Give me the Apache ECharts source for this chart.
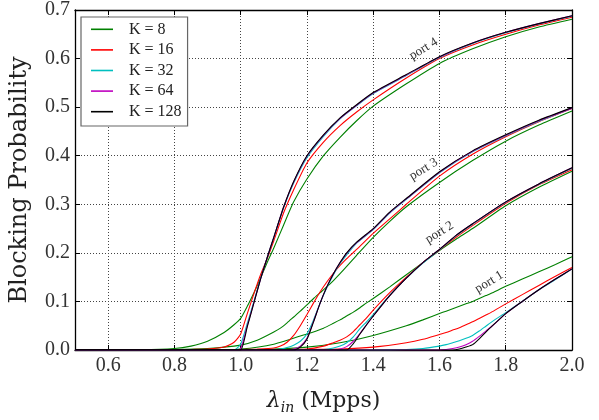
<!DOCTYPE html>
<html>
<head>
<meta charset="utf-8">
<script src="https://cdn.jsdelivr.net/npm/echarts@6/dist/echarts.min.js"></script>
<style>
  html, body { margin: 0; padding: 0; background: #fff; }
  #chart { width: 599px; height: 420px; }
</style>
</head>
<body>
<div id="chart"></div>
<script>
// Blocking probability vs. input rate, one family of curves per output port,
// one curve per buffer size K.
const kNames = ['K = 8', 'K = 16', 'K = 32', 'K = 64', 'K = 128'];
const xTicks = [0.6, 0.8, 1.0, 1.2, 1.4, 1.6, 1.8, 2.0];
const portNames = ['port 1', 'port 2', 'port 3', 'port 4'];

// port 4
const port4X = [0.5, 0.7, 0.8, 0.85, 0.9, 0.95, 0.98, 1.0, 1.02, 1.04, 1.06, 1.08, 1.1, 1.13, 1.16, 1.2, 1.25, 1.3, 1.35, 1.4, 1.5, 1.6, 1.7, 1.8, 1.9, 2.0];
const port4K8 = [0, 0.0005, 0.003, 0.008, 0.018, 0.036, 0.052, 0.065, 0.09, 0.118, 0.148, 0.18, 0.21, 0.258, 0.305, 0.352, 0.4, 0.438, 0.472, 0.502, 0.548, 0.59, 0.62, 0.645, 0.665, 0.681];
const port4K16 = [0, 0, 0, 0.001, 0.002, 0.006, 0.016, 0.033, 0.075, 0.116, 0.155, 0.188, 0.225, 0.283, 0.33, 0.385, 0.428, 0.462, 0.49, 0.515, 0.56, 0.6, 0.628, 0.65, 0.669, 0.685];
const port4K32 = [0, 0, 0, 0, 0, 0, 0, 0.012, 0.055, 0.1, 0.147, 0.19, 0.232, 0.294, 0.344, 0.396, 0.44, 0.476, 0.503, 0.528, 0.565, 0.602, 0.631, 0.653, 0.671, 0.687];
const port4K64 = [0, 0, 0, 0, 0, 0, 0, 0.003, 0.05, 0.098, 0.146, 0.19, 0.232, 0.295, 0.346, 0.399, 0.442, 0.477, 0.504, 0.529, 0.566, 0.603, 0.632, 0.654, 0.672, 0.688];
const port4K128 = [0, 0, 0, 0, 0, 0, 0, 0, 0.048, 0.097, 0.146, 0.19, 0.232, 0.295, 0.347, 0.4, 0.443, 0.478, 0.505, 0.53, 0.567, 0.604, 0.632, 0.654, 0.672, 0.688];

// port 3
const port3X = [0.5, 0.8, 0.9, 1.0, 1.05, 1.1, 1.12, 1.14, 1.16, 1.18, 1.2, 1.22, 1.24, 1.26, 1.28, 1.3, 1.32, 1.35, 1.4, 1.45, 1.5, 1.6, 1.7, 1.8, 1.9, 2.0];
const port3K8 = [0, 0.001, 0.003, 0.01, 0.02, 0.037, 0.045, 0.056, 0.068, 0.08, 0.093, 0.106, 0.118, 0.13, 0.143, 0.157, 0.172, 0.195, 0.232, 0.265, 0.295, 0.345, 0.39, 0.43, 0.463, 0.492];
const port3K16 = [0, 0, 0, 0.001, 0.002, 0.004, 0.008, 0.016, 0.03, 0.05, 0.073, 0.097, 0.12, 0.14, 0.158, 0.174, 0.188, 0.207, 0.24, 0.27, 0.3, 0.358, 0.403, 0.439, 0.47, 0.497];
const port3K32 = [0, 0, 0, 0, 0, 0, 0.002, 0.005, 0.01, 0.018, 0.033, 0.062, 0.097, 0.128, 0.155, 0.178, 0.196, 0.22, 0.248, 0.282, 0.31, 0.365, 0.408, 0.441, 0.471, 0.498];
const port3K64 = [0, 0, 0, 0, 0, 0, 0, 0, 0.002, 0.008, 0.024, 0.059, 0.097, 0.13, 0.157, 0.18, 0.199, 0.221, 0.249, 0.283, 0.311, 0.366, 0.409, 0.442, 0.472, 0.498];
const port3K128 = [0, 0, 0, 0, 0, 0, 0, 0, 0, 0.006, 0.022, 0.058, 0.097, 0.13, 0.157, 0.18, 0.2, 0.222, 0.25, 0.284, 0.312, 0.367, 0.41, 0.443, 0.473, 0.499];

// port 2
const port2X = [0.5, 0.9, 1.0, 1.1, 1.2, 1.25, 1.28, 1.3, 1.32, 1.34, 1.36, 1.38, 1.4, 1.45, 1.5, 1.55, 1.6, 1.65, 1.7, 1.8, 1.9, 2.0];
const port2K8 = [0, 0, 0.002, 0.012, 0.033, 0.045, 0.055, 0.062, 0.07, 0.078, 0.087, 0.097, 0.106, 0.13, 0.155, 0.18, 0.205, 0.228, 0.25, 0.297, 0.335, 0.368];
const port2K16 = [0, 0, 0, 0.001, 0.002, 0.008, 0.015, 0.02, 0.027, 0.038, 0.052, 0.066, 0.082, 0.118, 0.15, 0.18, 0.206, 0.232, 0.256, 0.302, 0.34, 0.371];
const port2K32 = [0, 0, 0, 0, 0, 0.001, 0.004, 0.008, 0.015, 0.027, 0.044, 0.058, 0.073, 0.113, 0.148, 0.179, 0.206, 0.235, 0.259, 0.304, 0.341, 0.374];
const port2K64 = [0, 0, 0, 0, 0, 0, 0, 0.002, 0.007, 0.018, 0.034, 0.052, 0.07, 0.112, 0.148, 0.18, 0.207, 0.236, 0.26, 0.305, 0.342, 0.375];
const port2K128 = [0, 0, 0, 0, 0, 0, 0, 0, 0, 0.013, 0.033, 0.052, 0.07, 0.112, 0.148, 0.18, 0.207, 0.236, 0.26, 0.305, 0.342, 0.375];

// port 1
const port1X = [0.5, 1.0, 1.1, 1.2, 1.3, 1.4, 1.5, 1.55, 1.6, 1.62, 1.64, 1.66, 1.68, 1.7, 1.72, 1.74, 1.76, 1.8, 1.85, 1.9, 1.95, 2.0];
const port1K8 = [0, 0, 0.002, 0.006, 0.015, 0.03, 0.05, 0.062, 0.075, 0.08, 0.085, 0.09, 0.095, 0.1, 0.106, 0.112, 0.118, 0.131, 0.146, 0.161, 0.176, 0.192];
const port1K16 = [0, 0, 0, 0.001, 0.002, 0.006, 0.015, 0.022, 0.032, 0.036, 0.041, 0.046, 0.052, 0.058, 0.065, 0.072, 0.079, 0.095, 0.114, 0.133, 0.152, 0.17];
const port1K32 = [0, 0, 0, 0, 0, 0, 0.001, 0.003, 0.008, 0.011, 0.015, 0.019, 0.024, 0.03, 0.039, 0.049, 0.059, 0.077, 0.1, 0.124, 0.145, 0.167];
const port1K64 = [0, 0, 0, 0, 0, 0, 0, 0, 0, 0.001, 0.003, 0.006, 0.011, 0.018, 0.028, 0.039, 0.05, 0.075, 0.1, 0.124, 0.146, 0.167];
const port1K128 = [0, 0, 0, 0, 0, 0, 0, 0, 0, 0, 0, 0.002, 0.006, 0.011, 0.023, 0.037, 0.05, 0.075, 0.1, 0.124, 0.146, 0.167];

const kColors = ['#008000', '#ff0000', '#00bfbf', '#bf00bf', '#000000'];
const SERIF = '"Liberation Serif", "DejaVu Serif", serif';
const TITLE_FONT = '"DejaVu Serif", serif';

const ports = [
  { x: port1X, ys: [port1K8, port1K16, port1K32, port1K64, port1K128] },
  { x: port2X, ys: [port2K8, port2K16, port2K32, port2K64, port2K128] },
  { x: port3X, ys: [port3K8, port3K16, port3K32, port3K64, port3K128] },
  { x: port4X, ys: [port4K8, port4K16, port4K32, port4K64, port4K128] }
];

// Green first, black last, so the largest buffer size sits on top.
const series = [];
kNames.forEach((name, k) => {
  ports.forEach(p => {
    series.push({
      type: 'line',
      name: name,
      xAxisIndex: 0,
      yAxisIndex: 0,
      data: p.x.map((xv, i) => [xv, p.ys[k][i]]),
      symbol: 'none',
      smooth: 0.2,
      lineStyle: { color: kColors[k], width: 1.1 },
      itemStyle: { color: kColors[k] },
      z: 2 + k,
      silent: true
    });
  });
});

const frame = { show: true, onZero: false, lineStyle: { color: '#000', width: 1.3 } };
const inTick = { show: true, inside: true, length: 5, lineStyle: { color: '#000', width: 1 } };
const dotted = { show: true, lineStyle: { color: '#444', width: 1, type: [1, 2] } };

const chart = echarts.init(document.getElementById('chart'), null, { renderer: 'canvas' });
chart.setOption({
  animation: false,
  backgroundColor: '#fff',
  grid: { left: 73, right: 27, top: 10, bottom: 60 },
  legend: {
    data: kNames,
    orient: 'vertical',
    left: 81,
    top: 17,
    icon: 'rect',
    itemWidth: 22,
    itemHeight: 1.6,
    itemGap: 0,
    padding: [2, 6, 4, 10],
    borderColor: '#666',
    borderWidth: 1.2,
    backgroundColor: '#fff',
    textStyle: { fontFamily: SERIF, fontSize: 16, color: '#222', lineHeight: 20.6, padding: [0, 0, 0, 11] }
  },
  xAxis: [
    {
      type: 'value', min: 0.5, max: 2.0, position: 'bottom',
      name: '{l|λ}{s|in}{t| (Mpps)}',
      nameLocation: 'middle', nameGap: 37,
      nameTextStyle: {
        color: '#222', fontFamily: TITLE_FONT,
        rich: {
          l: { fontFamily: TITLE_FONT, fontSize: 22, fontStyle: 'italic', lineHeight: 28, color: '#222' },
          s: { fontFamily: TITLE_FONT, fontSize: 14, fontStyle: 'italic', lineHeight: 10, verticalAlign: 'bottom', color: '#222' },
          t: { fontFamily: TITLE_FONT, fontSize: 22, lineHeight: 28, color: '#222' }
        }
      },
      axisLine: frame,
      axisTick: Object.assign({ customValues: xTicks }, inTick),
      axisLabel: { customValues: xTicks, margin: 6, fontFamily: SERIF, fontSize: 20, color: '#333', formatter: v => v.toFixed(1) },
      splitLine: dotted
    },
    {
      type: 'value', min: 0.5, max: 2.0, position: 'top',
      axisLine: frame,
      axisTick: Object.assign({ customValues: xTicks }, inTick),
      axisLabel: { show: false, customValues: xTicks },
      splitLine: { show: false }
    }
  ],
  yAxis: [
    {
      type: 'value', min: 0, max: 0.7, interval: 0.1, position: 'left',
      name: 'Blocking Probability',
      nameLocation: 'middle', nameGap: 43,
      nameTextStyle: { fontFamily: TITLE_FONT, fontSize: 24, color: '#222' },
      axisLine: frame,
      axisTick: inTick,
      axisLabel: { margin: 5, fontFamily: SERIF, fontSize: 20, color: '#333', formatter: v => v.toFixed(1) },
      splitLine: dotted
    },
    {
      type: 'value', min: 0, max: 0.7, interval: 0.1, position: 'right',
      axisLine: frame,
      axisTick: inTick,
      axisLabel: { show: false },
      splitLine: { show: false }
    }
  ],
  series: series
});

// Rotated port labels, anchored in data coordinates.
const portLabelAt = [[1.75, 0.14], [1.6, 0.242], [1.552, 0.372], [1.552, 0.62]];
const labels = portNames.map((txt, i) => {
  const pt = chart.convertToPixel({ gridIndex: 0 }, portLabelAt[i]);
  return {
    type: 'text',
    x: pt[0], y: pt[1],
    rotation: 0.55,
    z: 20,
    style: {
      text: txt, fill: '#333', font: '13px ' + SERIF,
      align: 'center', verticalAlign: 'middle'
    }
  };
});
chart.setOption({ graphic: labels });
</script>
</body>
</html>
